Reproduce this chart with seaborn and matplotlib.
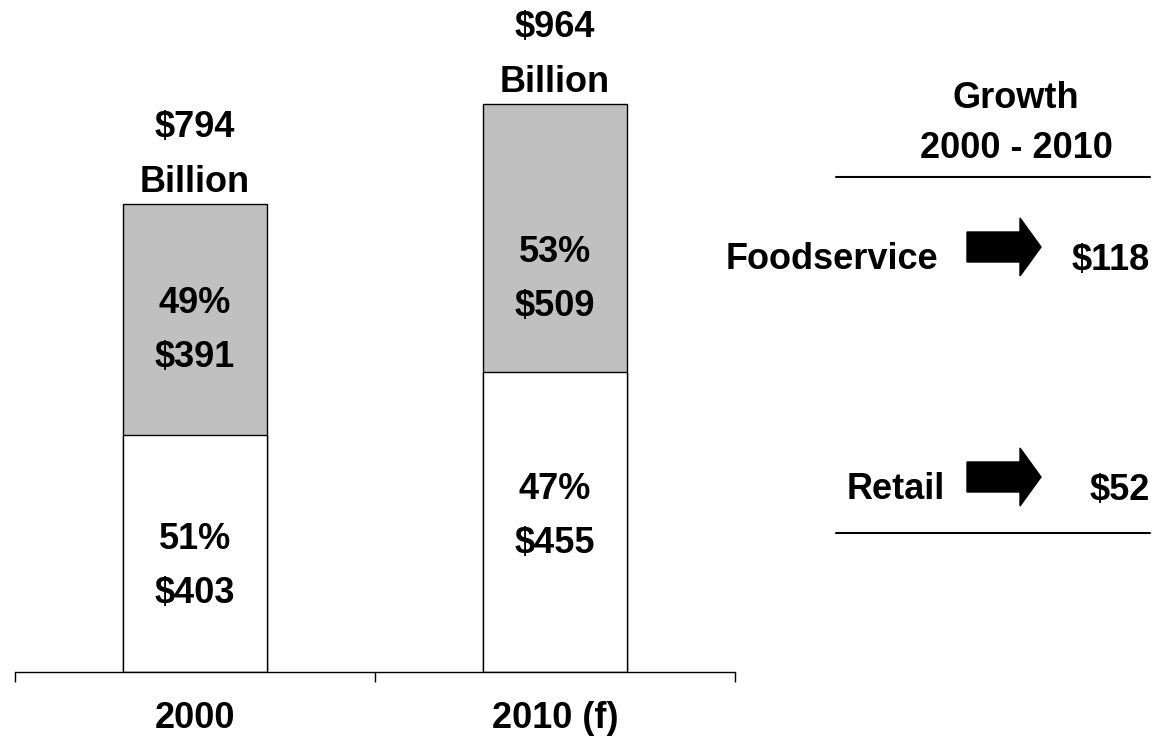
import seaborn as sns
import matplotlib.pyplot as plt
from matplotlib.patches import Polygon

years = ["2000", "2010 (f)"]
# segment heights as drawn in the source chart (its 2010 split sits at ~509, not 455)
lower_bar = [403, 509]
upper_bar = [391, 455]
# values printed on the segments
lower_value = [403, 455]
upper_value = [391, 509]
lower_pct = ["51%", "47%"]
upper_pct = ["49%", "53%"]
totals = [794, 964]
segments = ["Foodservice", "Retail"]
growth = [upper_value[1] - upper_value[0], lower_value[1] - lower_value[0]]

sns.set_style("white")
plt.rcParams["font.family"] = ["Liberation Sans", "DejaVu Sans"]
plt.rcParams["font.weight"] = "bold"
plt.rcParams["text.color"] = "black"
plt.rcParams["xtick.color"] = "black"
plt.rcParams["axes.edgecolor"] = "black"
FS = 26

fig = plt.figure(figsize=(11.64, 7.44), dpi=100)
W, H = 1164, 744
ax = fig.add_axes([15 / W, (H - 672) / H, 720 / W, 648 / H])

bar_tops = [a + b for a, b in zip(lower_bar, upper_bar)]
# gray full bars first, then white lower part over them
sns.barplot(x=years, y=bar_tops, color="#C0C0C0", edgecolor="black", linewidth=1,
            width=0.4, saturation=1, ax=ax)
sns.barplot(x=years, y=lower_bar, color="white", edgecolor="black", linewidth=1,
            width=0.4, saturation=1, ax=ax)

ax.set_xlim(-0.5, 1.5)
ax.set_ylim(0, 1100)
ax.set_yticks([])
for s in ["top", "left", "right"]:
    ax.spines[s].set_visible(False)
ax.spines["bottom"].set_linewidth(1)
ax.set_xticks([0, 1])
ax.set_xticklabels(years, fontsize=FS, fontweight="bold", color="black")
ax.set_xticks([-0.5, 0.5, 1.5], minor=True)
ax.tick_params(axis="x", which="major", length=0, pad=21)
ax.tick_params(axis="x", which="minor", bottom=True, length=7, width=1,
               direction="out", color="black")
ax.set_xlabel("")
ax.set_ylabel("")

# label pair nudges (px, downward) for [lower, upper] of each bar
nudge = [[10, 8], [-9.5, 37.5]]
pt = 0.72

for i in range(len(years)):
    parts = [(lower_pct[i], lower_value[i], lower_bar[i] / 2, nudge[i][0]),
             (upper_pct[i], upper_value[i], lower_bar[i] + upper_bar[i] / 2, nudge[i][1])]
    for pct, val, mid, nd in parts:
        ax.annotate(pct, (i, mid), xytext=(0, (14 - nd) * pt), textcoords="offset points",
                    ha="center", va="baseline", fontsize=FS, fontweight="bold")
        ax.annotate(f"${val}", (i, mid), xytext=(0, (-40 - nd) * pt), textcoords="offset points",
                    ha="center", va="baseline", fontsize=FS, fontweight="bold")
    top = bar_tops[i]
    ax.annotate("Billion", (i, top), xytext=(0, 8.6), textcoords="offset points",
                ha="center", va="baseline", fontsize=FS, fontweight="bold")
    ax.annotate(f"${totals[i]}", (i, top), xytext=(0, 48.5), textcoords="offset points",
                ha="center", va="baseline", fontsize=FS, fontweight="bold")

# right-hand growth panel, in pixel coords
ov = fig.add_axes([0, 0, 1, 1])
ov.set_xlim(0, W)
ov.set_ylim(H, 0)
ov.axis("off")

ov.text(1016, 108, "Growth", ha="center", va="baseline", fontsize=FS, fontweight="bold")
ov.text(1016, 158, "2000 - 2010", ha="center", va="baseline", fontsize=FS, fontweight="bold")
ov.plot([836, 1150], [177, 177], color="black", lw=1.5)
ov.plot([836, 1150], [533, 533], color="black", lw=1.5)

for name, g, yc, xr in zip(segments, growth, [247, 477], [938, 945]):
    ov.text(xr, yc + 22, name, ha="right", va="baseline", fontsize=FS, fontweight="bold")
    ov.text(1150, yc + 23, f"${g}", ha="right", va="baseline", fontsize=FS, fontweight="bold")
    arrow = [(967, yc - 15), (1020, yc - 15), (1020, yc - 29), (1041, yc),
             (1020, yc + 29), (1020, yc + 15), (967, yc + 15)]
    ov.add_patch(Polygon(arrow, closed=True, facecolor="black", edgecolor="black"))

fig.savefig("out.png", dpi=100)
